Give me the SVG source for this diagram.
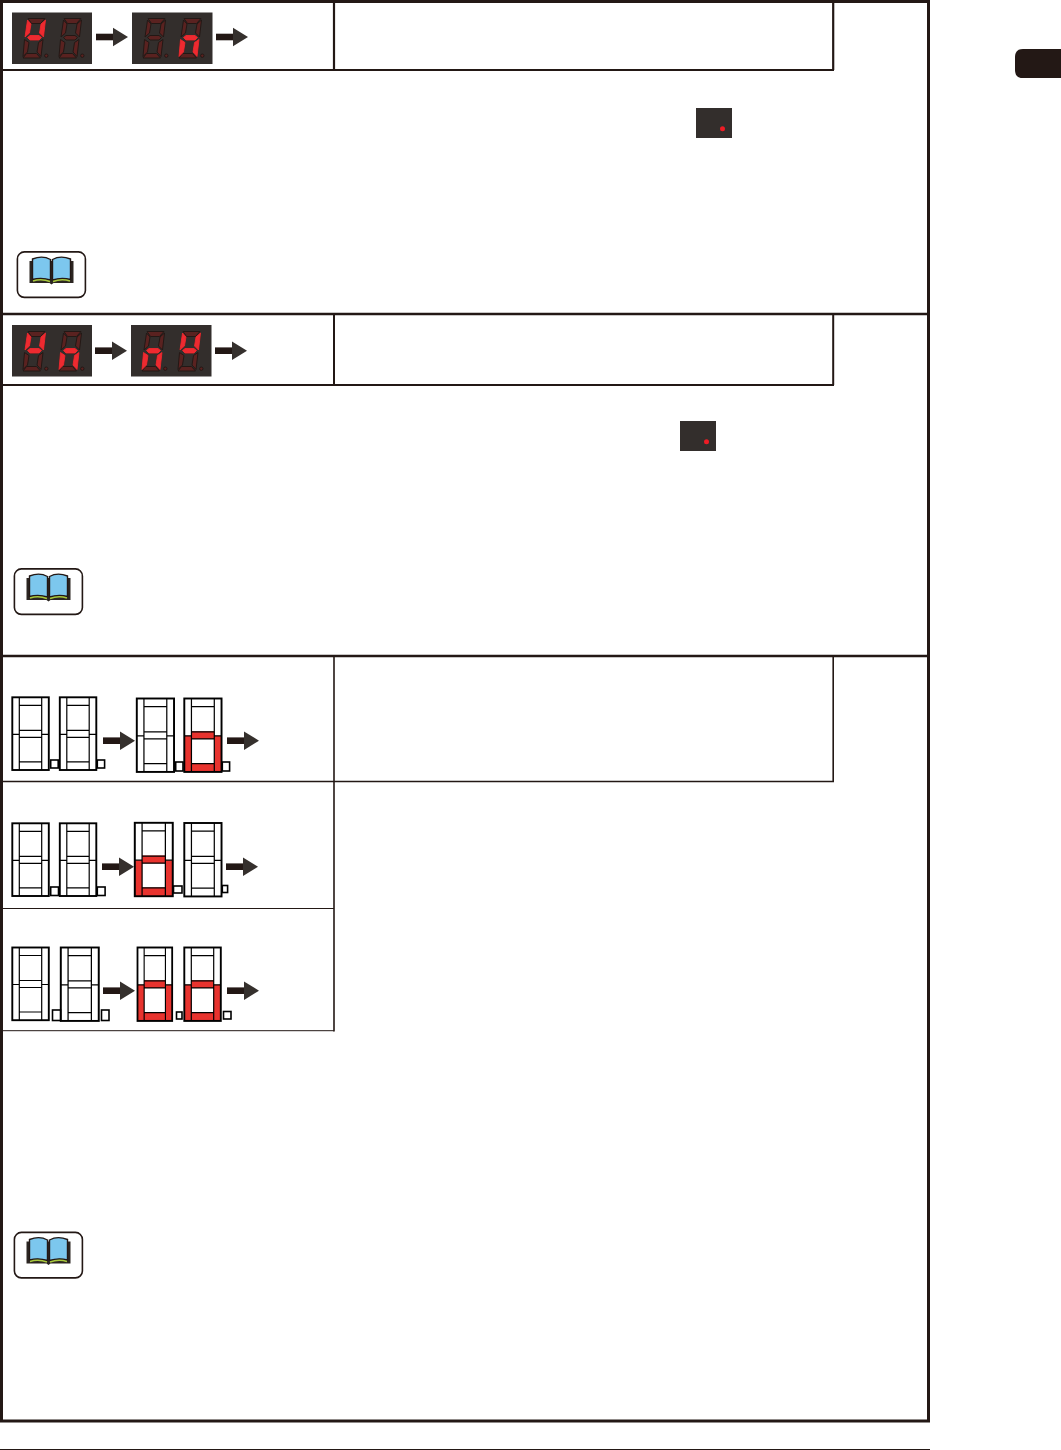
<svg xmlns="http://www.w3.org/2000/svg" xmlns:xlink="http://www.w3.org/1999/xlink" width="1061" height="1450" viewBox="0 0 1061 1450">
<style>
.ln{fill:none;stroke:#231815}
.off polygon,.off circle{fill:#5a2220;stroke:#231815;stroke-width:1}
.on{fill:#ee2a30;stroke:#ee2a30;stroke-width:.9;stroke-linejoin:round}
.panel{fill:#332e2c}
.s{fill:none;stroke:#000;stroke-width:1.200}
.b{fill:none;stroke:#000;stroke-width:1.900}
.sq{fill:#fff;stroke:#000;stroke-width:1.600}
.r{fill:#e8332e;stroke:none}
.bar{fill:#231815}
.head{fill:#35302d}
</style>
<defs>
<g id="dig" class="off">
<polygon points="6,1.500 23,1.500 18.500,6.500 9.500,6.500"/>
<polygon points="5.500,3 9,7 7.500,16 3,20"/>
<polygon points="23.500,3 21.500,20 17.500,16 19,7"/>
<polygon points="5.500,20.500 8,18.500 17,18.500 19.500,20.500 17,23 8,23"/>
<polygon points="2.500,22.500 7,25.500 5.500,35 1,39.500"/>
<polygon points="21,22.500 19,39.500 15,35 16.500,25.500"/>
<polygon points="4.500,36.500 14.500,36.500 18.500,41 1,41"/>
<circle cx="24.300" cy="38.700" r="1.700"/>
</g>
<g id="lU"><polygon class="on" points="5.500,3 9,7 7.500,16 3,20"/><polygon class="on" points="23.500,3 21.500,20 17.500,16 19,7"/><polygon class="on" points="5.500,20.500 8,18.500 17,18.500 19.500,20.500 17,23 8,23"/></g>
<g id="ln"><polygon class="on" points="5.500,20.500 8,18.500 17,18.500 19.500,20.500 17,23 8,23"/><polygon class="on" points="2.500,22.500 7,25.500 5.500,35 1,39.500"/><polygon class="on" points="21,22.500 19,39.500 15,35 16.500,25.500"/></g>
<g id="out">
<path class="s" d="M7 0V72.700M29.400 0V72.700M7 8H29.400M7 33H29.400M7 40H29.400M7 64.500H29.400M0 37H7M29.400 37H36.500"/>
<rect class="b" x="0" y="0" width="36.500" height="72.700"/>
</g>
<g id="outr">
<path class="r" d="M0 37H7V72.700H0ZM29.400 37H36.500V72.700H29.400ZM7 32.500H29.400V40H7ZM7 64H29.400V72.700H7Z"/>
<use href="#out"/>
</g>
<g id="arrow"><rect class="bar" x="0" y="-3.300" width="17.500" height="6.600"/><polygon class="head" points="17,-9.300 32,0 17,9.300"/></g>
<g id="led"><rect class="panel" width="36" height="30"/><circle cx="26.500" cy="20.700" r="2.500" fill="#ee1c25"/></g>
<g id="book">
<rect x=".9" y=".9" width="68" height="45.500" rx="7" fill="#fff" stroke="#231815" stroke-width="1.600"/>
<path d="M13 10H57V32H37L35 33.500L33 32H13Z" fill="#2c2622"/>
<path d="M16 8Q26 4 34 8.500V29Q25 26 16 28.500Z" fill="#7cc7ee" stroke="#231815" stroke-width="1.400"/>
<path d="M54 8Q44 4 36 8.500V29Q45 26 54 28.500Z" fill="#7cc7ee" stroke="#231815" stroke-width="1.400"/>
<path d="M16.500 30Q25 27.500 33.500 30.500M53.500 30Q45 27.500 36.500 30.500" fill="none" stroke="#a8c83c" stroke-width="1.500"/>
</g>
</defs>

<g id="connectors">
<use href="#arrow" x="96" y="37"/><use href="#arrow" x="216" y="37"/>
<use href="#arrow" x="95" y="350.700"/><use href="#arrow" x="215" y="350.700"/>
<use href="#arrow" x="103" y="740.700"/><use href="#arrow" x="227" y="740.700"/>
<use href="#arrow" x="102" y="866.700"/><use href="#arrow" x="226" y="866.700"/>
<use href="#arrow" x="103" y="990.700"/><use href="#arrow" x="227" y="990.700"/>
</g>

<g id="frame">
<path class="ln" stroke-width="3" d="M1.500 1.500H928.500V1421H1.500Z"/>
<path class="ln" stroke-width="2.200" d="M2 70H834M833.200 2V70M334 2V70"/>
<path class="ln" stroke-width="2.600" d="M2 314H929M2 656H929"/>
<path class="ln" stroke-width="2" d="M2 385H834M833.200 314V385M334 314V385"/>
<path class="ln" stroke-width="1.600" d="M2 781.500H834M833.200 656V782M334 656V1031.500"/>
<path class="ln" stroke-width="1" d="M2 908.500H334M2 1030.700H334M0 1449.500H930"/>
</g>

<path id="tab" fill="#231815" d="M1061 49H1023Q1015 49 1015 57V70Q1015 78 1023 78H1061Z"/>

<g id="node-display-1a"><rect class="panel" x="12" y="12.500" width="80" height="51.500"/>
<use href="#dig" x="22" y="17"/><use href="#lU" x="22" y="17"/><use href="#dig" x="58" y="17"/></g>
<g id="node-display-1b"><rect class="panel" x="132" y="12.500" width="80.500" height="51.500"/>
<use href="#dig" x="142" y="17"/><use href="#dig" x="178" y="17"/><use href="#ln" x="178" y="17"/></g>
<g id="node-display-2a"><rect class="panel" x="12" y="325" width="80" height="51.500"/>
<use href="#dig" x="22" y="330"/><use href="#lU" x="22" y="330"/><use href="#dig" x="58" y="330"/><use href="#ln" x="58" y="330"/></g>
<g id="node-display-2b"><rect class="panel" x="131" y="325" width="80.500" height="51.500"/>
<use href="#dig" x="141" y="330"/><use href="#ln" x="141" y="330"/><use href="#dig" x="177" y="330"/><use href="#lU" x="177" y="330"/></g>

<g id="node-led-1"><use href="#led" x="696" y="108"/></g>
<g id="node-led-2"><use href="#led" x="680" y="421"/></g>

<g id="node-book-1"><use href="#book" x="16.500" y="251"/></g>
<g id="node-book-2"><use href="#book" x="13.500" y="568"/></g>
<g id="node-book-3"><use href="#book" x="13.500" y="1231.500"/></g>

<g id="node-seg-a">
<use href="#out" transform="translate(12.300 697.300)"/>
<use href="#out" transform="translate(59.800 697.300)"/>
<use href="#out" transform="translate(136.800 698.500) scale(1.02 1.01)"/>
<use href="#outr" transform="translate(184.300 698.500) scale(1.02 1.01)"/>
<rect class="sq" x="50.700" y="760" width="7.500" height="8"/>
<rect class="sq" x="97.300" y="760" width="7.300" height="8"/>
<rect class="sq" x="175.700" y="762" width="7.300" height="9"/>
<rect class="sq" x="222.300" y="762" width="7.300" height="9"/>
</g>
<g id="node-seg-b">
<use href="#out" transform="translate(12.300 823.300)"/>
<use href="#out" transform="translate(59.800 823.300)"/>
<use href="#outr" transform="translate(134.800 822.800) scale(1.04 1.01)"/>
<use href="#out" transform="translate(184.300 823) scale(1.02 1.01)"/>
<rect class="sq" x="50.700" y="887" width="7.800" height="8.500"/>
<rect class="sq" x="97.300" y="887" width="7.800" height="8.500"/>
<rect class="sq" x="173.500" y="886" width="8.500" height="7"/>
<rect class="sq" x="222.300" y="885.500" width="5.300" height="7"/>
</g>
<g id="node-seg-c">
<use href="#out" transform="translate(12.300 947.500)"/>
<use href="#out" transform="translate(60.800 947.500) scale(1.04 1.01)"/>
<use href="#outr" transform="translate(137.500 947.500) scale(.95 1.01)"/>
<use href="#outr" transform="translate(184.300 947.500) scale(1 1.01)"/>
<rect class="sq" x="52.500" y="1010" width="8" height="10.500"/>
<rect class="sq" x="101.500" y="1010" width="7.500" height="10.500"/>
<rect class="sq" x="176.500" y="1012" width="5.500" height="7"/>
<rect class="sq" x="223.500" y="1011.500" width="7.500" height="7.500"/>
</g>
</svg>
